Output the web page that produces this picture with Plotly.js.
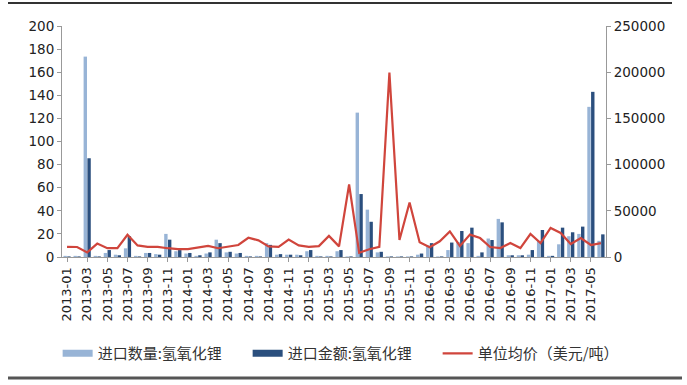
<!DOCTYPE html>
<html>
<head>
<meta charset="utf-8">
<script src="https://cdn.plot.ly/plotly-3.0.1.min.js"></script>
<style>html,body{margin:0;padding:0;background:#fff;}#chart{width:687px;height:385px;}</style>
</head>
<body>
<div id="chart"></div>
<script>
// months 2013-01 .. 2017-06
var months = [];
for (var yr = 2013; yr <= 2017; yr++) {
  for (var mo = 1; mo <= 12; mo++) {
    if (yr === 2017 && mo > 6) break;
    months.push(yr + '-' + (mo < 10 ? '0' + mo : '' + mo));
  }
}
var tickLabels = months.filter(function (m, i) { return i % 2 === 0; });

var quantity = [1, 1, 173.5, 1, 3.5, 2, 7.5, 1, 3.5, 2.5,
                20, 5, 3, 1, 3, 15, 4, 3, 1, 1,
                12, 2, 2, 2, 5, 1, 1, 5, 0.5, 125,
                41, 4, 0.5, 0.5, 0.5, 2, 10, 0.5, 6, 13,
                12, 1, 16, 33, 1.5, 1.5, 2, 14, 1, 11,
                18, 20, 130, 14];
var amount = [0.5, 0.5, 85.5, 0.5, 6, 1.5, 18, 0.5, 3.5, 2,
              15, 6, 3.5, 1.5, 4, 12, 4.5, 3.5, 0.5, 0.5,
              10.5, 2.5, 2, 1.5, 6, 0.5, 0.5, 6, 0.5, 54.5,
              30.5, 4.5, 0.5, 0.5, 0.5, 3, 12, 0.5, 12.5, 22.5,
              25.4, 4, 14.7, 30, 1.5, 1.5, 6, 23.4, 1, 25.4,
              21.4, 26.3, 143, 19.6];
var unitPrice = [11000, 10800, 5000, 14500, 9500, 9500, 24000, 12500, 11000, 11000,
                 9500, 8500, 8500, 10000, 12000, 9500, 11000, 13000, 20800, 18000,
                 11500, 11000, 18800, 12500, 11000, 11800, 22800, 11500, 78500, 4500,
                 8400, 11000, 199500, 18400, 59000, 16000, 10600, 17000, 27700, 12000,
                 24200, 20500, 10800, 9700, 15100, 9700, 24900, 15100, 31400, 26000,
                 14000, 20500, 13000, 15100];

var seriesNames = ['进口数量:氢氧化锂', '进口金额:氢氧化锂', '单位均价（美元/吨）'];
var colors = ['#98b4d6', '#2b4f7e', '#d0453c'];

var NUMFONT = 'DejaVu Sans, sans-serif';
var CJKFONT = 'Noto Sans CJK SC, sans-serif';

var traces = [
  {type: 'bar', name: seriesNames[0], x: months, y: quantity,
   marker: {color: colors[0]}, yaxis: 'y', showlegend: false, legendgroup: 'q'},
  {type: 'bar', name: seriesNames[1], x: months, y: amount,
   marker: {color: colors[1]}, yaxis: 'y', showlegend: false, legendgroup: 'a'},
  {type: 'scatter', mode: 'lines', name: seriesNames[2], x: months, y: unitPrice,
   line: {color: colors[2], width: 2.2}, yaxis: 'y2', legendrank: 3},
  // legend keys styled as wide swatches for the two bar series
  {type: 'scatter', mode: 'lines', name: seriesNames[0], x: [null], y: [null],
   line: {color: colors[0], width: 7}, legendgroup: 'q', legendrank: 1, hoverinfo: 'skip'},
  {type: 'scatter', mode: 'lines', name: seriesNames[1], x: [null], y: [null],
   line: {color: colors[1], width: 7}, legendgroup: 'a', legendrank: 2, hoverinfo: 'skip'}
];

var layout = {
  width: 687, height: 385,
  margin: {l: 62, r: 81, t: 26, b: 128},
  paper_bgcolor: '#ffffff', plot_bgcolor: '#ffffff',
  font: {family: NUMFONT, size: 13, color: '#222'},
  barmode: 'group', bargap: 0.25, bargroupgap: 0.1,
  showlegend: true,
  legend: {orientation: 'h', x: -0.008, xanchor: 'left', y: -0.418, yanchor: 'middle',
           font: {family: CJKFONT, size: 15, color: '#333'},
           traceorder: 'normal', entrywidth: 145, entrywidthmode: 'pixels',
           bgcolor: 'rgba(0,0,0,0)'},
  xaxis: {type: 'category', tickmode: 'array', tickvals: tickLabels, ticktext: tickLabels,
          tickangle: -90, tickfont: {family: NUMFONT, size: 13, color: '#222'},
          showline: true, linecolor: '#999', linewidth: 1,
          ticks: 'outside', ticklen: 4, tickcolor: '#999',
          showgrid: false, zeroline: false, range: [-0.5, 53.5]},
  yaxis: {range: [0, 200], dtick: 20, tick0: 0, showgrid: false, zeroline: false,
          showline: true, linecolor: '#999', linewidth: 1,
          ticks: 'outside', ticklen: 4, tickcolor: '#999',
          tickfont: {family: NUMFONT, size: 13.5, color: '#222'}},
  yaxis2: {overlaying: 'y', side: 'right', range: [0, 250000], dtick: 50000, tick0: 0,
           showgrid: false, zeroline: false, showline: true, linecolor: '#999', linewidth: 1,
           ticks: 'outside', ticklen: 4, tickcolor: '#999',
           tickfont: {family: NUMFONT, size: 13.5, color: '#222'}, tickformat: 'd'},
  shapes: [
    {type: 'line', xref: 'paper', yref: 'paper', x0: (8 - 62) / 544, x1: (672 - 62) / 544,
     y0: (257 - 3) / 231, y1: (257 - 3) / 231, line: {color: '#333', width: 2}},
    {type: 'line', xref: 'paper', yref: 'paper', x0: (8 - 62) / 544, x1: (682 - 62) / 544,
     y0: (257 - 378) / 231, y1: (257 - 378) / 231, line: {color: '#555', width: 3}}
  ]
};

Plotly.newPlot('chart', traces, layout, {displayModeBar: false, staticPlot: true});
</script>
</body>
</html>
